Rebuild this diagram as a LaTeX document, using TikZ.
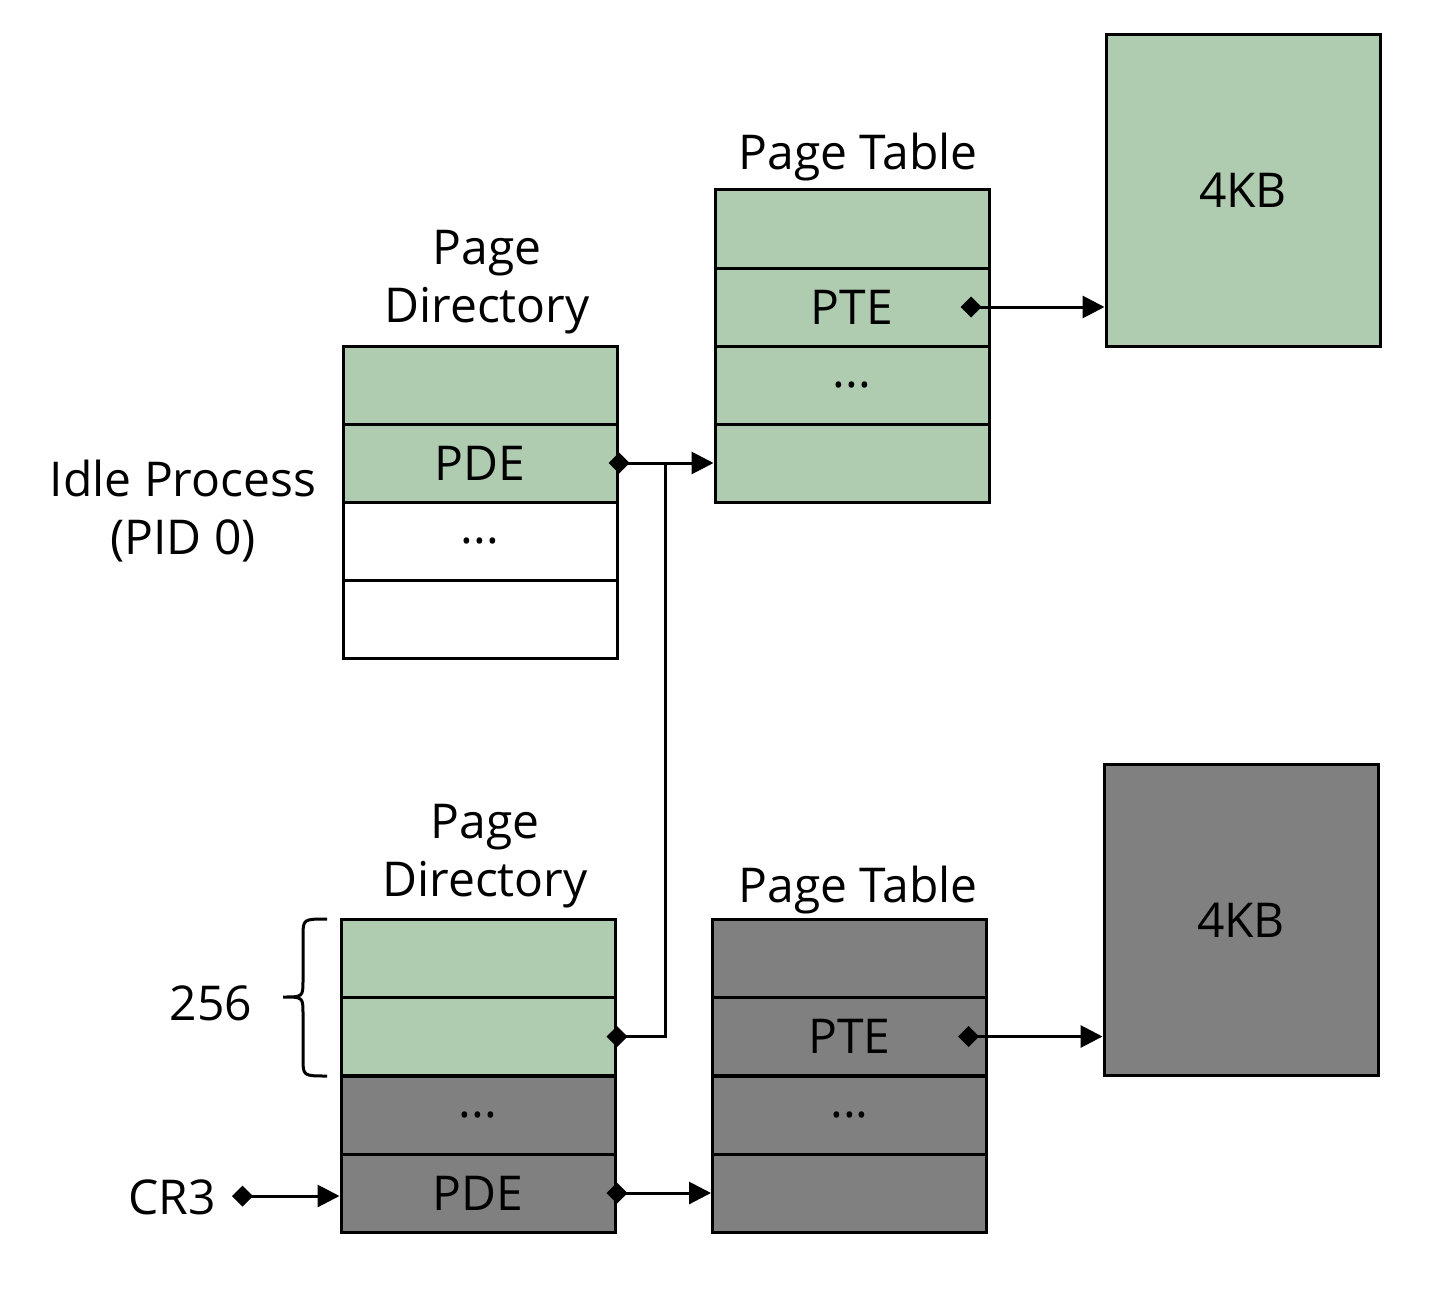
\documentclass[tikz,border=0pt]{standalone}
\usepackage{fontspec}
\setmainfont{Open Sans}
\usetikzlibrary{arrows.meta}
\definecolor{pgreen}{HTML}{AFCBB0}
\definecolor{pgray}{HTML}{808080}
\begin{document}
\begin{tikzpicture}[x=1pt,y=-1pt,
  every node/.style={font=\fontsize{48}{58}\selectfont, inner sep=0pt},
  cell/.style={draw, line width=3pt, minimum width=274pt, minimum height=78pt, fill=#1},
  cell/.default=white,
  bigbox/.style={draw, line width=3pt, minimum width=274pt, minimum height=311pt, fill=#1},
  lbl/.style={align=center},
  conn/.style={line width=3pt, {Diamond[length=21pt,width=21pt]}-{Triangle[length=22pt,width=22pt]}},
  link/.style={line width=3pt, {Diamond[length=21pt,width=21pt]}-},
]
\useasboundingbox (0,0) rectangle (1440,1292);
% top page directory
\node[cell=pgreen] (tpd1) at (480,385) {};
\node[cell=pgreen] (tpd2) at (480,463) {PDE};
\node[cell] (tpd3) at (480,541) {...};
\node[cell] (tpd4) at (480,619) {};
% top page table
\node[cell=pgreen] (tpt1) at (852,229) {};
\node[cell=pgreen] (tpt2) at (852,307) {PTE};
\node[cell=pgreen] (tpt3) at (852,385) {...};
\node[cell=pgreen] (tpt4) at (852,463) {};
\node[bigbox=pgreen] (tpg) at (1243,190.5) {4KB};
% bottom page directory
\node[cell=pgreen] (bpd1) at (478,958) {};
\node[cell=pgreen] (bpd2) at (478,1036.5) {};
\node[cell=pgray] (bpd3) at (478,1115) {...};
\node[cell=pgray] (bpd4) at (478,1193) {PDE};
% bottom page table
\node[cell=pgray] (bpt1) at (849.5,958) {};
\node[cell=pgray] (bpt2) at (849.5,1036.5) {PTE};
\node[cell=pgray] (bpt3) at (849.5,1115) {...};
\node[cell=pgray] (bpt4) at (849.5,1193) {};
\node[bigbox=pgray] (bpg) at (1241,920) {4KB};
% labels
\node[lbl] (tptl) at (858,157) {Page Table};
\node[lbl] (bptl) at (858,890) {Page Table};
\node[lbl] (tpdl) at (487,282) {Page\\Directory};
\node[lbl] (bpdl) at (485,856) {Page\\Directory};
\node[lbl] (idle) at (183,511) {Idle Process\\(PID 0)};
\node[lbl] (n256) at (211,1003) {256};
\node[lbl] (cr3) at (172,1197) {CR3};
% brace
\draw[line width=3pt] (327,919) .. controls (303,919) .. (303,937) -- (303,980)
  .. controls (303,997) .. (283,997) .. controls (303,997) .. (303,1014) -- (303,1058)
  .. controls (303,1076) .. (327,1076);
% connectors
\coordinate (cr3s) at (232,1196);
\coordinate (j1) at (665,1036.5);
\coordinate (j2) at (665,463);
\draw[conn] ([xshift=-10pt]tpd2.east) -- (tpt4.west);
\draw[conn] ([xshift=-30pt]tpt2.east) -- (tpg.west |- tpt2.east);
\draw[conn] ([xshift=-30pt]bpt2.east) -- (bpg.west |- bpt2.east);
\draw[conn] (cr3s) -- (bpd4.west |- cr3s);
\draw[conn] ([xshift=-10pt]bpd4.east) -- (bpt4.west);
\draw[link,line join=miter] ([xshift=-10pt]bpd2.east) -- (j1) -- (j2);
\end{tikzpicture}
\end{document}
